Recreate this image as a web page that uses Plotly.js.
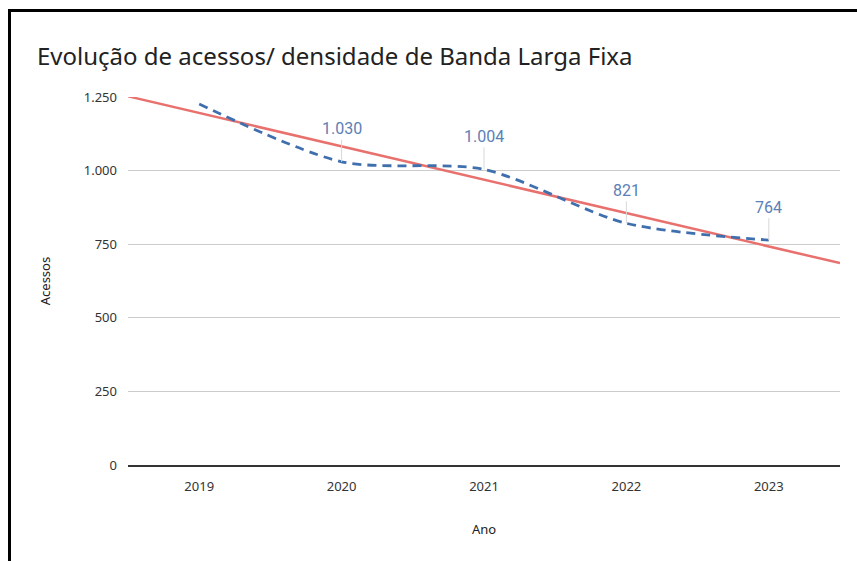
<!DOCTYPE html>
<html>
<head>
<meta charset="utf-8">
<script src="https://cdn.plot.ly/plotly-3.0.1.min.js"></script>
<style>
html,body{margin:0;padding:0;background:#fff;overflow:hidden;}
#wrap{position:relative;width:857px;height:561px;}
#chart{position:absolute;left:0;top:0;width:857px;height:561px;}
#frame{position:absolute;left:8px;top:9px;width:849px;height:552px;border-left:3px solid #000;border-top:3px solid #000;box-sizing:border-box;pointer-events:none;}
</style>
</head>
<body>
<div id="wrap"><div id="chart"></div><div id="frame"></div></div>
<script>
// Data
const anos = ['2019', '2020', '2021', '2022', '2023'];
const acessos = [1226, 1030, 1004, 821, 764];
const rotulosVisiveis = [false, true, true, true, true];
const yTicks = [0, 250, 500, 750, 1000, 1250];

const xIdx = anos.map((_, i) => i);

// linear trendline (least squares), drawn across the full category range
const n = xIdx.length;
const mx = xIdx.reduce((a, b) => a + b, 0) / n;
const my = acessos.reduce((a, b) => a + b, 0) / n;
let sxy = 0, sxx = 0;
for (let i = 0; i < n; i++) { sxy += (xIdx[i] - mx) * (acessos[i] - my); sxx += (xIdx[i] - mx) ** 2; }
const slope = sxy / sxx;
const intercept = my - slope * mx;
const trendX = [-0.5, n - 0.5];
const trendY = trendX.map(x => intercept + slope * x);

function fmt(v) {
  return String(Math.round(v)).replace(/\B(?=(\d{3})+(?!\d))/g, '.');
}

const traces = [
  {
    x: trendX, y: trendY, type: 'scatter', mode: 'lines',
    line: { color: '#e8716e', width: 2.5 }, hoverinfo: 'skip', showlegend: false
  },
  {
    x: xIdx, y: acessos, type: 'scatter', mode: 'lines',
    line: { color: '#3f70ad', width: 2.8, dash: '9px,6px', shape: 'spline', smoothing: 0.8 },
    showlegend: false
  }
];

const annotations = [];
xIdx.forEach((x, i) => {
  if (!rotulosVisiveis[i]) return;
  annotations.push({
    x: x, y: acessos[i], xref: 'x', yref: 'y',
    text: fmt(acessos[i]), showarrow: true, arrowhead: 0, arrowwidth: 1,
    arrowcolor: '#d8d8d8', ax: 0, ay: -33, standoff: 0,
    font: { family: 'Roboto, Arial, sans-serif', size: 16, color: '#5b80b6' }
  });
});

const layout = {
  width: 857, height: 561,
  margin: { l: 128, r: 17, t: 97, b: 96 },
  paper_bgcolor: '#ffffff', plot_bgcolor: '#ffffff',
  separators: ',.',
  showlegend: false,
  font: { family: '"Noto Sans", "Open Sans", sans-serif', color: '#333' },
  title: {
    text: 'Evolução de acessos/ densidade de Banda Larga Fixa',
    x: 37 / 857, xanchor: 'left', xref: 'container',
    y: 1 - 57 / 561, yanchor: 'middle', yref: 'container',
    font: { family: '"Noto Sans", "Open Sans", sans-serif', size: 24, color: '#222' }
  },
  xaxis: {
    type: 'linear', range: [-0.5, n - 0.5],
    tickvals: xIdx, ticktext: anos,
    showgrid: false, zeroline: false,
    showline: true, linecolor: '#333', linewidth: 1.5,
    ticks: '', ticklabelstandoff: 9,
    tickfont: { size: 13, color: '#333' },
    title: { text: 'Ano', font: { size: 13, color: '#222' }, standoff: 31 }
  },
  yaxis: {
    range: [0, 1250], tickvals: yTicks, separatethousands: true,
    tickformat: ',d',
    showgrid: true, gridcolor: '#cccccc', gridwidth: 1,
    zeroline: false, showline: false,
    ticks: '', ticklabelstandoff: 10,
    tickfont: { size: 13, color: '#333' },
    title: { text: 'Acessos', font: { size: 13, color: '#222' }, standoff: 30 }
  },
  annotations: annotations
};

Plotly.newPlot('chart', traces, layout, { displayModeBar: false, staticPlot: true });
</script>
</body>
</html>
